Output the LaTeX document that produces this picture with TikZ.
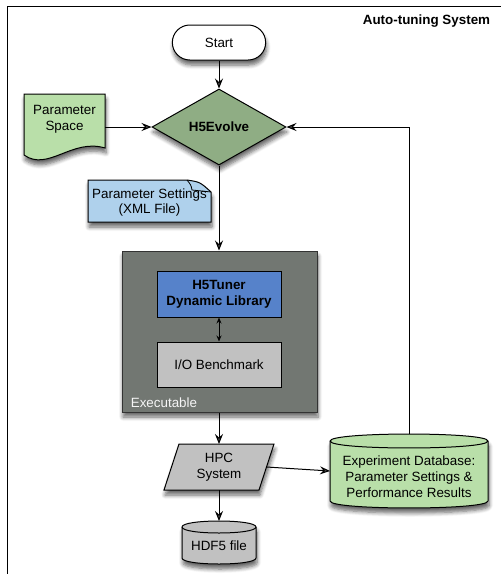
\documentclass[tikz,border=0pt]{standalone}
\usepackage{fontspec}
\setmainfont{Liberation Sans}
\usetikzlibrary{shapes.geometric,shapes.misc,arrows.meta,shadows.blur}
\definecolor{lgreen}{HTML}{B9DFA9}
\definecolor{evolvegreen}{HTML}{8FAD84}
\definecolor{lblue}{HTML}{AFD1EC}
\definecolor{execgray}{HTML}{727772}
\definecolor{tunerblue}{HTML}{5682CA}
\definecolor{lgray}{HTML}{C1C1C1}
\begin{document}
\begin{tikzpicture}[x=1pt,y=-1pt,line width=1pt,
  fnt/.style={font=\fontsize{13.4}{16}\selectfont},
  fntb/.style={font=\fontsize{13.4}{16}\selectfont\bfseries},
  arr/.style={-{Stealth[length=10pt,width=8pt,inset=3.5pt]}},
  darr/.style={{Stealth[length=6pt,width=5pt,inset=2pt]}-{Stealth[length=6pt,width=5pt,inset=2pt]}},
  shad/.style={blur shadow={shadow xshift=1pt,shadow yshift=-5pt,shadow blur steps=6,shadow blur radius=4pt,shadow opacity=60}},
  anchorbox/.style={inner sep=0pt,outer sep=0pt}]
\useasboundingbox (0,0) rectangle (501,574);
% frame
\draw[line width=1pt] (7,574) -- (7,6) -- (501,6);
\node[fntb,anchor=base east] (title) at (494,24) {Auto-tuning System};

% Start
\node[rounded rectangle,draw,fill=white,shad,minimum width=100pt,minimum height=35pt,fnt] (start) at (219,42.5) {Start};

% H5Evolve
\node[diamond,draw,fill=evolvegreen,shad,minimum width=134pt,minimum height=76pt,inner sep=0pt,aspect=1.76,fntb] (evolve) at (219,127) {H5Evolve};

% Parameter Space
\path[draw,fill=lgreen,shad] (24,94) -- (105,94) -- (105,148)
   .. controls (72,138) and (48,172) .. (24,155) -- cycle;
\node[anchorbox,minimum width=81pt,minimum height=66pt] (psbox) at (64.5,127) {};
\node[fnt,align=center] (ps) at (64.5,119) {Parameter\\Space};

% Parameter Settings document
\path[draw,fill=lblue,shad] (88,180) -- (187,180) .. controls (200,182) .. (211,192) -- (211,222) -- (88,222) -- cycle;
\draw[line width=0.8pt] (187,180) .. controls (191,185) .. (192,190) -- (211,192);
\node[fnt,align=center,font=\fontsize{13.4}{15}\selectfont] (pset) at (149.5,203) {Parameter Settings\\(XML File)};

% Executable
\node[draw=black!80,fill=execgray,shad,minimum width=195pt,minimum height=161pt,inner sep=0pt] (exec) at (219.5,331.5) {};
\node[fnt,anchor=base west,text=white!92!gray] (execlbl) at (127,407) {Executable};
\node[draw,fill=tunerblue,minimum width=124pt,minimum height=46pt,fntb,align=center,inner sep=0pt] (tuner) at (219,294) {H5Tuner\\Dynamic Library};
\node[draw,fill=lgray,minimum width=124pt,minimum height=45pt,fnt,inner sep=0pt] (io) at (219,364.5) {I/O Benchmark};
\draw[darr] (tuner.south) -- (io.north);

% HPC System
\path[draw,fill=lgray,shad] (179,444) -- (274,444) -- (259,490) -- (164,490) -- cycle;
\node[anchorbox,minimum width=95pt,minimum height=46pt,fnt,align=center] (hpc) at (219,467) {HPC\\System};

% Experiment database
\path[draw,fill=lgreen,shad] (330,441) -- (330,501) .. controls (330,510.3) and (488,510.3) .. (488,501)
   -- (488,441) .. controls (488,431.7) and (330,431.7) .. (330,441) -- cycle;
\draw (330,441) .. controls (330,450.3) and (488,450.3) .. (488,441);
\node[anchorbox,minimum width=158pt,minimum height=74pt] (db) at (409,471) {};
\node[fnt,align=center] (dbtxt) at (409,477) {Experiment Database:\\Parameter Settings \&\\Performance Results};

% HDF5 file
\path[draw,fill=lgray,shad] (182,527) -- (182,558) .. controls (182,566) and (256,566) .. (256,558)
   -- (256,527) .. controls (256,519) and (182,519) .. (182,527) -- cycle;
\draw (182,527) .. controls (182,535) and (256,535) .. (256,527);
\node[anchorbox,minimum width=74pt,minimum height=43pt] (hdf) at (219,542.5) {};
\node[fnt] (hdftxt) at (219,546) {HDF5 file};

% connectors
\draw[arr] (start.south) -- (evolve.north);
\draw[arr] (psbox.east) -- (evolve.west);
\draw[arr] (evolve.south) -- (exec.north -| evolve.south);
\draw[arr] (exec.south -| hpc.north) -- (hpc.north);
\draw[arr] (hpc.east) -- (db.west);
\draw[arr] (hpc.south) -- (hdf.north);
\draw[arr] (db.north) |- (evolve.east);
\end{tikzpicture}
\end{document}
